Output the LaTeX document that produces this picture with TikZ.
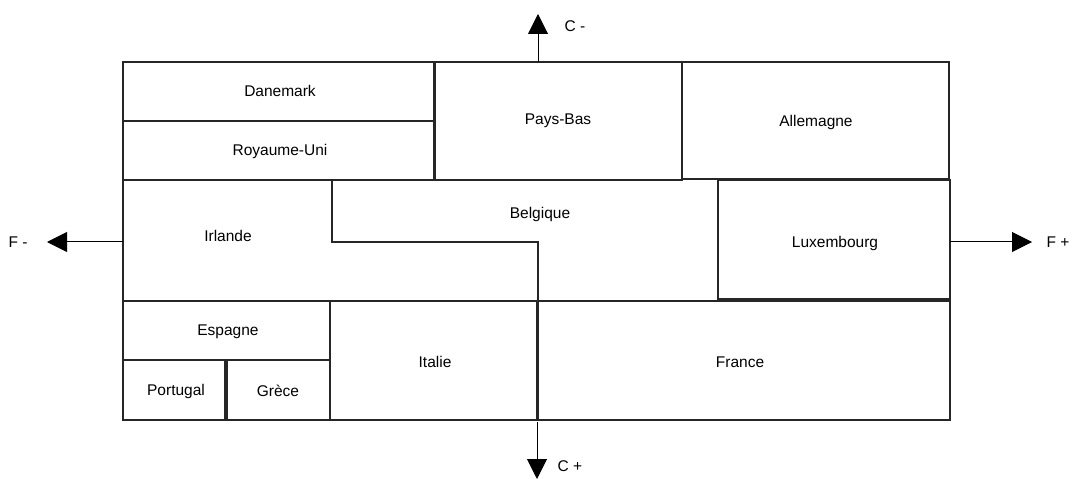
\documentclass[tikz,border=0pt]{standalone}
\usepackage{fontspec}
\setmainfont{Liberation Sans}
\usetikzlibrary{arrows.meta}
\begin{document}
\begin{tikzpicture}[x=1bp,y=-1bp,
  box/.style={draw=black!85,line width=1.2bp},
  lbl/.style={font=\fontsize{15.5bp}{18bp}\selectfont,inner sep=0pt},
  axis/.style={draw=black,line width=1bp,-{Triangle[length=20bp,width=20bp]}}]
\useasboundingbox (0,0) rectangle (1075,479);
% top row
\draw[box] (123,62) rectangle (434,121);
\draw[box] (123,121) rectangle (434,180);
\draw[box] (435,62) rectangle (682,180);
\draw[box] (682,62) rectangle (949,179);
% middle row
\draw[box] (123,180) -- (123,301);
\draw[box] (332,180) -- (332,242) -- (538,242) -- (538,301);
\draw[box] (718,180) rectangle (950,299);
% bottom row
\draw[box] (123,301) rectangle (330,360);
\draw[box] (123,360) rectangle (225,420);
\draw[box] (227,360) rectangle (330,420);
\draw[box] (330,301) rectangle (537,420);
\draw[box] (538,301) rectangle (950,420);
% labels
\node[lbl] (dk) at (280,91) {Danemark};
\node[lbl] (uk) at (280,151) {Royaume-Uni};
\node[lbl] (nl) at (558,121) {Pays-Bas};
\node[lbl] (de) at (816,122) {Allemagne};
\node[lbl] (be) at (540,214) {Belgique};
\node[lbl] (ie) at (228,236) {Irlande};
\node[lbl] (lu) at (835,243) {Luxembourg};
\node[lbl] (es) at (228,332) {Espagne};
\node[lbl] (pt) at (176,391) {Portugal};
\node[lbl] (gr) at (278,391) {Grèce};
\node[lbl] (it) at (435,362) {Italie};
\node[lbl] (fr) at (740,362) {France};
% axes
\coordinate (ctop) at (538,62);
\coordinate (ctopE) at (538,14);
\coordinate (cbot) at (537,422);
\coordinate (cbotE) at (537,479);
\coordinate (fl) at (123,242);
\coordinate (flE) at (47,242);
\coordinate (fr0) at (950,242);
\coordinate (frE) at (1032,242);
\draw[axis] (ctop) -- (ctopE);
\draw[axis] (cbot) -- (cbotE);
\draw[axis] (fl) -- (flE);
\draw[axis] (fr0) -- (frE);
\node[lbl] (cm) at (575,26) {C -};
\node[lbl] (cp) at (570,466) {C +};
\node[lbl] (fm) at (18,242) {F -};
\node[lbl] (fp) at (1058,242) {F +};
\end{tikzpicture}
\end{document}
